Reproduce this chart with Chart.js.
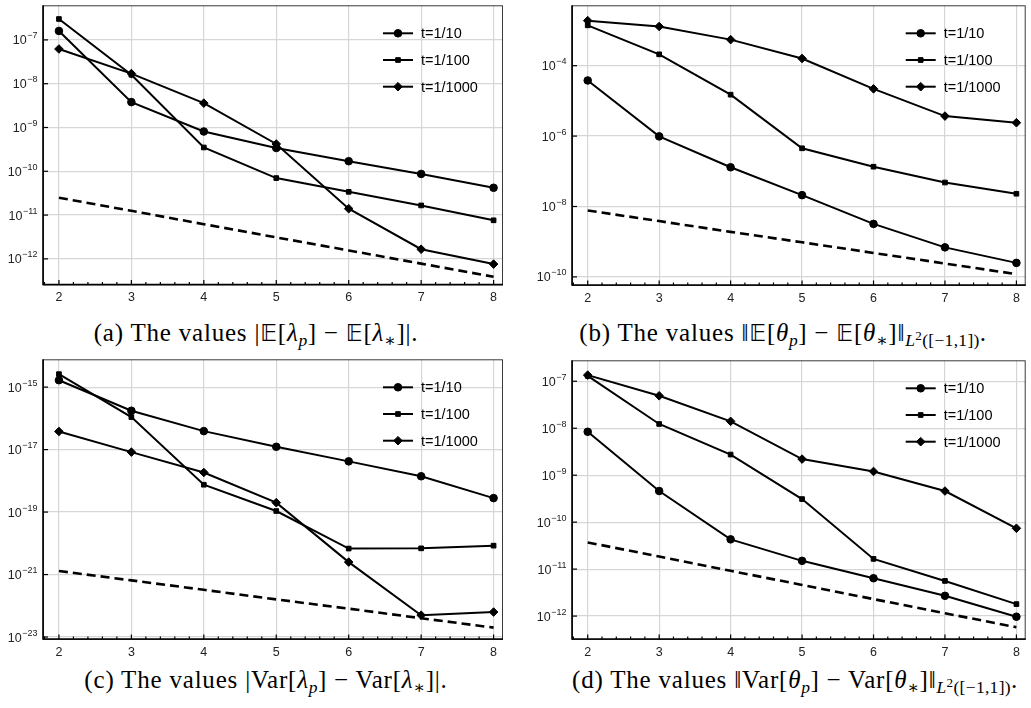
<!DOCTYPE html>
<html>
<head>
<meta charset="utf-8">
<script src="https://cdn.jsdelivr.net/npm/chart.js@4.4.1/dist/chart.umd.min.js"></script>
<style>
  body { margin: 0; background: #fff; width: 1031px; height: 708px; position: relative; overflow: hidden; }
  .panel { position: absolute; }
  .cap { position: absolute; font-family: "Liberation Serif", "DejaVu Serif", serif; font-size: 25px; letter-spacing: 0.8px; color: #000; white-space: nowrap; transform: translate(-50%, -50%); }
  .cap sub { font-size: 0.7em; vertical-align: -0.3em; line-height: 0; letter-spacing: 0.3px; }
  .cap sup { font-size: 0.75em; vertical-align: 0.45em; line-height: 0; }
  .bb { font-family: "DejaVu Sans", "DejaVu Serif", serif; font-size: 0.92em; }
</style>
</head>
<body>
<div class="panel" style="left:0px;top:0px"><canvas id="ca" width="515" height="310"></canvas></div>
<div class="panel" style="left:515px;top:0px"><canvas id="cb" width="516" height="310"></canvas></div>
<div class="panel" style="left:0px;top:354px"><canvas id="cc" width="515" height="310"></canvas></div>
<div class="panel" style="left:515px;top:355px"><canvas id="cd" width="516" height="309"></canvas></div>

<div class="cap" style="left:256px;top:333px">(a) The values |<span class="bb">𝔼</span>[<i>λ</i><sub><i>p</i></sub>] − <span class="bb">𝔼</span>[<i>λ</i><sub>∗</sub>]|.</div>
<div class="cap" style="left:783px;top:333px">(b) The values ‖<span class="bb">𝔼</span>[<i>θ</i><sub><i>p</i></sub>] − <span class="bb">𝔼</span>[<i>θ</i><sub>∗</sub>]‖<sub><i>L</i><sup>2</sup>([−1,1])</sub>.</div>
<div class="cap" style="left:266px;top:680px">(c) The values |Var[<i>λ</i><sub><i>p</i></sub>] − Var[<i>λ</i><sub>∗</sub>]|.</div>
<div class="cap" style="left:795px;top:680px">(d) The values ‖Var[<i>θ</i><sub><i>p</i></sub>] − Var[<i>θ</i><sub>∗</sub>]‖<sub><i>L</i><sup>2</sup>([−1,1])</sub>.</div>

<script>
// polynomial degree p on the x axis
const pValues = [2, 3, 4, 5, 6, 7, 8];
const seriesNames = ['t=1/10', 't=1/100', 't=1/1000'];
const xTicks = [2, 3, 4, 5, 6, 7, 8];

// (a) |E[lambda_p] - E[lambda_*]|
const a10   = [1.6e-7, 3.8e-9, 8.1e-10, 3.4e-10, 1.7e-10, 8.7e-11, 4.2e-11];
const a100  = [3.0e-7, 1.6e-8, 3.5e-10, 7.0e-11, 3.4e-11, 1.66e-11, 7.6e-12];
const a1000 = [6.2e-8, 1.7e-8, 3.6e-9, 4.2e-10, 1.4e-11, 1.66e-12, 7.6e-13];
const aRef  = [2.5e-11, 1.25e-11, 6.2e-12, 3.1e-12, 1.56e-12, 7.8e-13, 3.9e-13];
const aTicks = [-7, -8, -9, -10, -11, -12];

// (b) ||E[theta_p] - E[theta_*]||
const b10   = [3.8e-5, 9.8e-7, 1.3e-7, 2.1e-8, 3.2e-9, 6.9e-10, 2.5e-10];
const b100  = [1.4e-3, 2.1e-4, 1.5e-5, 4.5e-7, 1.35e-7, 4.8e-8, 2.3e-8];
const b1000 = [1.9e-3, 1.3e-3, 5.5e-4, 1.6e-4, 2.2e-5, 3.7e-6, 2.4e-6];
const bRef  = [7.7e-9, 3.85e-9, 1.9e-9, 9.6e-10, 4.8e-10, 2.4e-10, 1.2e-10];
const bTicks = [-4, -6, -8, -10];

// (c) |Var[lambda_p] - Var[lambda_*]|
const c10   = [1.66e-15, 1.75e-16, 3.9e-17, 1.23e-17, 4.2e-18, 1.4e-18, 2.8e-19];
const c100  = [2.6e-15, 1.1e-16, 7.5e-19, 1.08e-19, 6.8e-21, 6.9e-21, 8.4e-21];
const c1000 = [3.8e-17, 8.3e-18, 1.85e-18, 2.0e-19, 2.5e-21, 5.0e-23, 6.3e-23];
const cRef  = [1.3e-21, 6.5e-22, 3.25e-22, 1.6e-22, 8.1e-23, 4.0e-23, 2.0e-23];
const cTicks = [-15, -17, -19, -21, -23];

// (d) ||Var[theta_p] - Var[theta_*]||
const d10   = [8.4e-9, 4.6e-10, 4.3e-11, 1.5e-11, 6.4e-12, 2.7e-12, 9.7e-13];
const d100  = [1.3e-7, 1.23e-8, 2.75e-9, 3.1e-10, 1.65e-11, 5.6e-12, 1.8e-12];
const d1000 = [1.35e-7, 4.9e-8, 1.4e-8, 2.2e-9, 1.2e-9, 4.6e-10, 7.4e-11];
const dRef  = [3.7e-11, 1.85e-11, 9.2e-12, 4.6e-12, 2.3e-12, 1.15e-12, 5.8e-13];
const dTicks = [-7, -8, -9, -10, -11, -12];

const styles = [
  {pointStyle: 'circle', radius: 3.8},
  {pointStyle: 'rect', radius: 3.3},
  {pointStyle: 'rectRot', radius: 4.3}
];

const tickFont = '"Liberation Sans", Arial, sans-serif';

function pts(ys){
  return pValues.map((x, i) => ({x: x, y: ys[i]}));
}

// box, inward ticks, 10^n labels and legend
const framePlugin = {
  id: 'frame',
  afterDraw(chart){
    const ctx = chart.ctx;
    const a = chart.chartArea;
    const xs = chart.scales.x, ys = chart.scales.y;
    ctx.save();
    ctx.strokeStyle = '#3a3a3a';
    ctx.lineWidth = 1;
    ctx.strokeRect(a.left + 0.5, a.top + 0.5, a.right - a.left - 1, a.bottom - a.top);
    ctx.strokeStyle = '#000';
    ctx.lineWidth = 1.6;
    ctx.beginPath();
    ctx.moveTo(a.left, a.top);
    ctx.lineTo(a.left, a.bottom);
    ctx.lineTo(a.right, a.bottom);
    ctx.stroke();
    // x ticks (major + minor), pointing in
    ctx.lineWidth = 1.2;
    for(let k = 9; k <= 40; k++){
      let v = k / 5;
      let px = xs.getPixelForValue(v);
      if(px < a.left + 1 || px > a.right) continue;
      let len = (k % 5 === 0) ? 4.5 : 2.5;
      ctx.beginPath();
      ctx.moveTo(px, a.bottom);
      ctx.lineTo(px, a.bottom - len);
      ctx.stroke();
    }
    // y ticks + labels
    ctx.fillStyle = '#222';
    ctx.textBaseline = 'alphabetic';
    ctx.textAlign = 'left';
    ys.ticks.forEach(t => {
      let py = ys.getPixelForValue(t.value);
      ctx.beginPath();
      ctx.moveTo(a.left, py);
      ctx.lineTo(a.left + 5, py);
      ctx.stroke();
      let e = Math.round(Math.log10(t.value));
      let ex = '\u2212' + String(Math.abs(e));
      ctx.font = '12.5px ' + tickFont;
      let w1 = ctx.measureText('10').width;
      ctx.font = '9px ' + tickFont;
      let w2 = ctx.measureText(ex).width;
      let x0 = a.left - 6 - w1 - w2;
      ctx.font = '12.5px ' + tickFont;
      ctx.fillText('10', x0, py + 4.5);
      ctx.font = '9px ' + tickFont;
      ctx.fillText(ex, x0 + w1 + 0.5, py - 1.5);
    });
    // legend
    const lx = a.right - 120;
    seriesNames.forEach((name, i) => {
      let ly = a.top + 28 + i * 26.7;
      ctx.strokeStyle = '#000';
      ctx.fillStyle = '#000';
      ctx.lineWidth = 2;
      ctx.beginPath();
      ctx.moveTo(lx, ly);
      ctx.lineTo(lx + 30, ly);
      ctx.stroke();
      ctx.lineWidth = 1;
      Chart.helpers.drawPoint(ctx, {pointStyle: styles[i].pointStyle, radius: styles[i].radius, rotation: 0, borderWidth: 1}, lx + 15, ly);
      ctx.font = '14.5px ' + tickFont;
      ctx.textBaseline = 'middle';
      ctx.textAlign = 'left';
      ctx.fillText(name, lx + 38, ly + 1);
    });
    ctx.restore();
  }
};

function makeChart(id, s10, s100, s1000, ref, yTicks, yMinExp, yMaxExp, yW, padTop, padRight, xH){
  const sets = [s10, s100, s1000].map((s, i) => ({
    label: seriesNames[i],
    data: pts(s),
    borderColor: '#000',
    backgroundColor: '#000',
    borderWidth: 2,
    pointStyle: styles[i].pointStyle,
    pointRadius: styles[i].radius,
    pointBorderWidth: 1,
    pointBackgroundColor: '#000',
    pointBorderColor: '#000',
    tension: 0
  }));
  sets.push({
    label: 'ref',
    data: pts(ref),
    borderColor: '#000',
    borderWidth: 2.6,
    borderDash: [9, 5],
    pointRadius: 0,
    tension: 0
  });
  return new Chart(document.getElementById(id), {
    type: 'line',
    data: {datasets: sets},
    plugins: [framePlugin],
    options: {
      responsive: false,
      animation: false,
      devicePixelRatio: 1,
      layout: {padding: {top: padTop, right: padRight, left: 0, bottom: 0}},
      plugins: {legend: {display: false}, tooltip: {enabled: false}},
      scales: {
        x: {
          type: 'linear',
          bounds: 'data',
          min: 1.78,
          max: 8.13,
          afterBuildTicks: axis => { axis.ticks = xTicks.map(v => ({value: v})); },
          afterFit: axis => { axis.height = xH; },
          border: {display: false},
          grid: {color: '#d6d6d6', lineWidth: 1.2, drawTicks: false},
          ticks: {
            autoSkip: false,
            maxRotation: 0,
            padding: 6,
            color: '#222',
            font: {family: tickFont, size: 12.5},
            callback: v => String(v)
          }
        },
        y: {
          type: 'logarithmic',
          bounds: 'data',
          min: Math.pow(10, yMinExp),
          max: Math.pow(10, yMaxExp),
          afterBuildTicks: axis => { axis.ticks = yTicks.map(e => ({value: Math.pow(10, e)})); },
          afterFit: axis => { axis.width = yW; },
          border: {display: false},
          grid: {color: '#d6d6d6', lineWidth: 1.2, drawTicks: false},
          ticks: {display: false}
        }
      }
    }
  });
}

makeChart('ca', a10, a100, a1000, aRef, aTicks, -12.585, -6.21, 43, 1, 12, 25.5);
makeChart('cb', b10, b100, b1000, bRef, bTicks, -10.23, -2.285, 57, 1, 1, 25);
makeChart('cc', c10, c100, c1000, cRef, cTicks, -23.063, -14.11, 43, 1, 12, 25);
makeChart('cd', d10, d100, d1000, dRef, dTicks, -12.488, -6.554, 57, 1, 1, 25);
</script>
</body>
</html>
